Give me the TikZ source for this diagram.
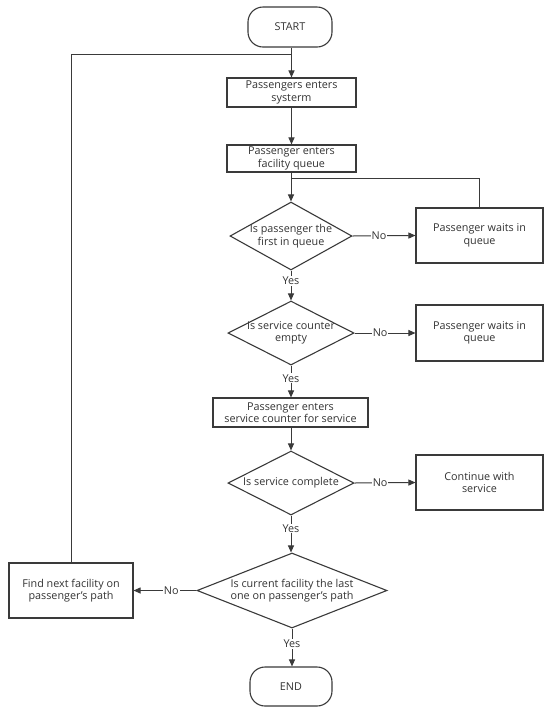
\documentclass[tikz,border=0pt]{standalone}
\usepackage{fontspec}
\setmainfont{Open Sans}
\usetikzlibrary{shapes.geometric,arrows.meta}
\definecolor{ln}{HTML}{3A3A3A}
\definecolor{tx}{HTML}{333333}
\begin{document}
\begin{tikzpicture}[x=1pt,y=-1pt,
  every node/.style={font=\fontsize{10.8}{12.5}\selectfont, text=tx, align=center},
  procbox/.style={draw=ln, line width=1.1pt, rectangle, inner sep=0pt},
  termbox/.style={draw=ln, line width=1.1pt, rectangle, rounded corners=15pt, inner sep=0pt},
  decbox/.style={draw=ln, line width=1.1pt, diamond, inner sep=0pt},
  flow/.style={draw=ln, line width=1pt, -{Triangle[length=7pt,width=6pt]}},
  plain/.style={draw=ln, line width=1pt},
  lab/.style={fill=white, inner sep=1pt}]
\useasboundingbox (0,0) rectangle (550,716);
\fill[white] (0,0) rectangle (550,716);

\node[termbox, minimum width=84pt, minimum height=40pt] (start) at (290,27) {START};
\node[procbox, minimum width=129pt, minimum height=29pt] (b1) at (291.5,92.5) {Passengers enters\\systerm};
\node[procbox, minimum width=129pt, minimum height=27pt] (b2) at (291.5,158.5) {Passenger enters\\facility queue};
\node[decbox, minimum width=122pt, minimum height=68pt, label={[align=center]center:Is passenger the\\first in queue}] (d1) at (291,236) {};
\node[procbox, minimum width=127pt, minimum height=55pt] (w1) at (479.5,235.5) {Passenger waits in\\queue};
\node[decbox, minimum width=126pt, minimum height=64pt, label={[align=center]center:Is service counter\\empty}] (d2) at (291,333) {};
\node[procbox, minimum width=127pt, minimum height=56pt] (w2) at (479.5,333) {Passenger waits in\\queue};
\node[procbox, minimum width=155pt, minimum height=29pt] (b3) at (290.5,412.5) {Passenger enters\\service counter for service};
\node[decbox, minimum width=126pt, minimum height=64pt, label={[align=center]center:Is service complete}] (d3) at (291,483) {};
\node[procbox, minimum width=127pt, minimum height=55pt] (c1) at (479.5,482.5) {Continue with\\service};
\node[decbox, minimum width=190pt, minimum height=75pt, label={[align=center]center:Is current facility the last\\one on passenger's path}] (d4) at (292,590.5) {};
\node[procbox, minimum width=124pt, minimum height=55pt] (f1) at (71,590.5) {Find next facility on\\passenger's path};
\node[termbox, minimum width=82pt, minimum height=39pt] (e1) at (291,686.5) {END};

\coordinate (j1) at (291,54);
\coordinate (j2) at (291,178);

\draw[flow] (start.south -| b1.north) -- (b1.north);
\draw[flow] (b1) -- (b2);
\draw[flow] (b2.south -| d1.north) -- (d1.north);
\draw[plain] (w1.north) |- (j2);
\draw[flow] (d1.east) -- node[lab, pos=0.42] {No} (w1.west);
\draw[flow] (d1.south) -- node[lab, pos=0.35] {Yes} (d2.north);
\draw[flow] (d2.east) -- node[lab, pos=0.42] {No} (w2.west);
\draw[flow] (d2.south) -- node[lab, pos=0.4] {Yes} (b3.north -| d2.south);
\draw[flow] (b3.south -| d3.north) -- (d3.north);
\draw[flow] (d3.east) -- node[lab, pos=0.42] {No} (c1.west);
\draw[flow] (d3.south) -- node[lab, pos=0.35] {Yes} (d4.north -| d3.south);
\draw[flow] (d4.west) -- node[lab, pos=0.4] {No} (f1.east);
\draw[flow] (d4.south) -- node[lab, pos=0.4] {Yes} (e1.north -| d4.south);
\draw[plain] (f1.north) |- (j1);
\end{tikzpicture}
\end{document}
